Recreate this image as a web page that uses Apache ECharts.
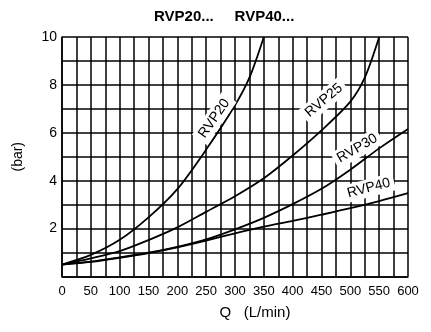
<!DOCTYPE html>
<html>
<head>
<meta charset="utf-8">
<script src="https://cdn.jsdelivr.net/npm/echarts@6/dist/echarts.min.js"></script>
<style>
  html, body { margin: 0; padding: 0; background: #fff; }
  #main { width: 431px; height: 332px; }
</style>
</head>
<body>
<div id="main"></div>
<script>
// flow Q (L/min) and pressure drop (bar)
const rvp20Q = [0, 50, 100, 150, 200, 250, 300, 325, 350];
const rvp20 = [0.5, 0.9, 1.53, 2.47, 3.65, 5.3, 7.15, 8.3, 10.0];

const rvp25Q = [0, 50, 100, 150, 200, 250, 300, 350, 400, 450, 500, 525, 550];
const rvp25 = [0.5, 0.76, 1.06, 1.52, 2.05, 2.7, 3.35, 4.1, 5.05, 6.1, 7.3, 8.3, 10.0];

const rvp30Q = [0, 50, 100, 150, 200, 250, 300, 350, 400, 450, 500, 550, 600];
const rvp30 = [0.5, 0.62, 0.8, 1.0, 1.24, 1.55, 1.97, 2.45, 3.02, 3.66, 4.46, 5.35, 6.16];

const rvp40Q = [0, 50, 100, 150, 200, 250, 300, 350, 400, 450, 500, 550, 600];
const rvp40 = [0.5, 0.61, 0.78, 0.98, 1.22, 1.5, 1.8, 2.08, 2.32, 2.58, 2.85, 3.15, 3.48];

const names = ['RVP20', 'RVP25', 'RVP30', 'RVP40'];

// where each curve name sits (data coords) and its angle
const labelQ = [264, 454, 512, 532];
const labelP = [6.6, 7.35, 5.35, 3.69];
const labelRot = [55, 40, 30, 15];

const FONT = 'Liberation Sans';

function pairs(qs, vs) {
  return qs.map((q, i) => [q, vs[i]]);
}

const curves = [
  pairs(rvp20Q, rvp20),
  pairs(rvp25Q, rvp25),
  pairs(rvp30Q, rvp30),
  pairs(rvp40Q, rvp40)
];

const chart = echarts.init(document.getElementById('main'));

chart.setOption({
  animation: false,
  backgroundColor: '#fff',
  title: {
    text: 'RVP20...     RVP40...',
    left: 149,
    top: 4,
    textStyle: { fontFamily: FONT, fontSize: 15, fontWeight: 'bold', color: '#000' }
  },
  grid: { left: 62, right: 23, top: 37, bottom: 55.5 },
  xAxis: {
    type: 'value',
    min: 0,
    max: 600,
    interval: 25,
    name: 'Q   (L/min)',
    nameLocation: 'middle',
    nameGap: 29,
    nameTextStyle: { fontFamily: FONT, fontSize: 15, color: '#000', padding: [0, 0, 0, 40] },
    axisLine: { lineStyle: { color: '#000', width: 1.5 } },
    axisTick: { show: false },
    axisLabel: {
      fontFamily: FONT, fontSize: 13, color: '#000', margin: 8,
      formatter: v => (v % 50 === 0 ? String(v) : '')
    },
    splitLine: { show: true, lineStyle: { color: '#000', width: 1.5 } }
  },
  yAxis: {
    type: 'value',
    min: 0,
    max: 10,
    interval: 1,
    name: '(bar)',
    nameLocation: 'middle',
    nameGap: 37,
    nameTextStyle: { fontFamily: FONT, fontSize: 14, color: '#000' },
    axisLine: { show: true, lineStyle: { color: '#000', width: 1.5 } },
    axisTick: { show: false },
    axisLabel: {
      fontFamily: FONT, fontSize: 14, color: '#000', margin: 5,
      formatter: v => (v > 0 && v % 2 === 0 ? String(v) : '')
    },
    splitLine: { show: true, lineStyle: { color: '#000', width: 1.5 } }
  },
  series: names.map((name, i) => ({
    name: name,
    type: 'line',
    data: curves[i],
    smooth: 0.3,
    showSymbol: false,
    lineStyle: { color: '#000', width: 1.8 },
    z: 3,
    markPoint: {
      silent: true,
      symbol: 'rect',
      symbolSize: 1,
      itemStyle: { color: 'rgba(0,0,0,0)' },
      label: {
        show: true,
        position: 'inside',
        formatter: name,
        rotate: labelRot[i],
        fontFamily: FONT,
        fontSize: 14,
        color: '#000',
        backgroundColor: '#fff',
        padding: [2, 4]
      },
      data: [{ coord: [labelQ[i], labelP[i]] }]
    }
  }))
});
</script>
</body>
</html>
